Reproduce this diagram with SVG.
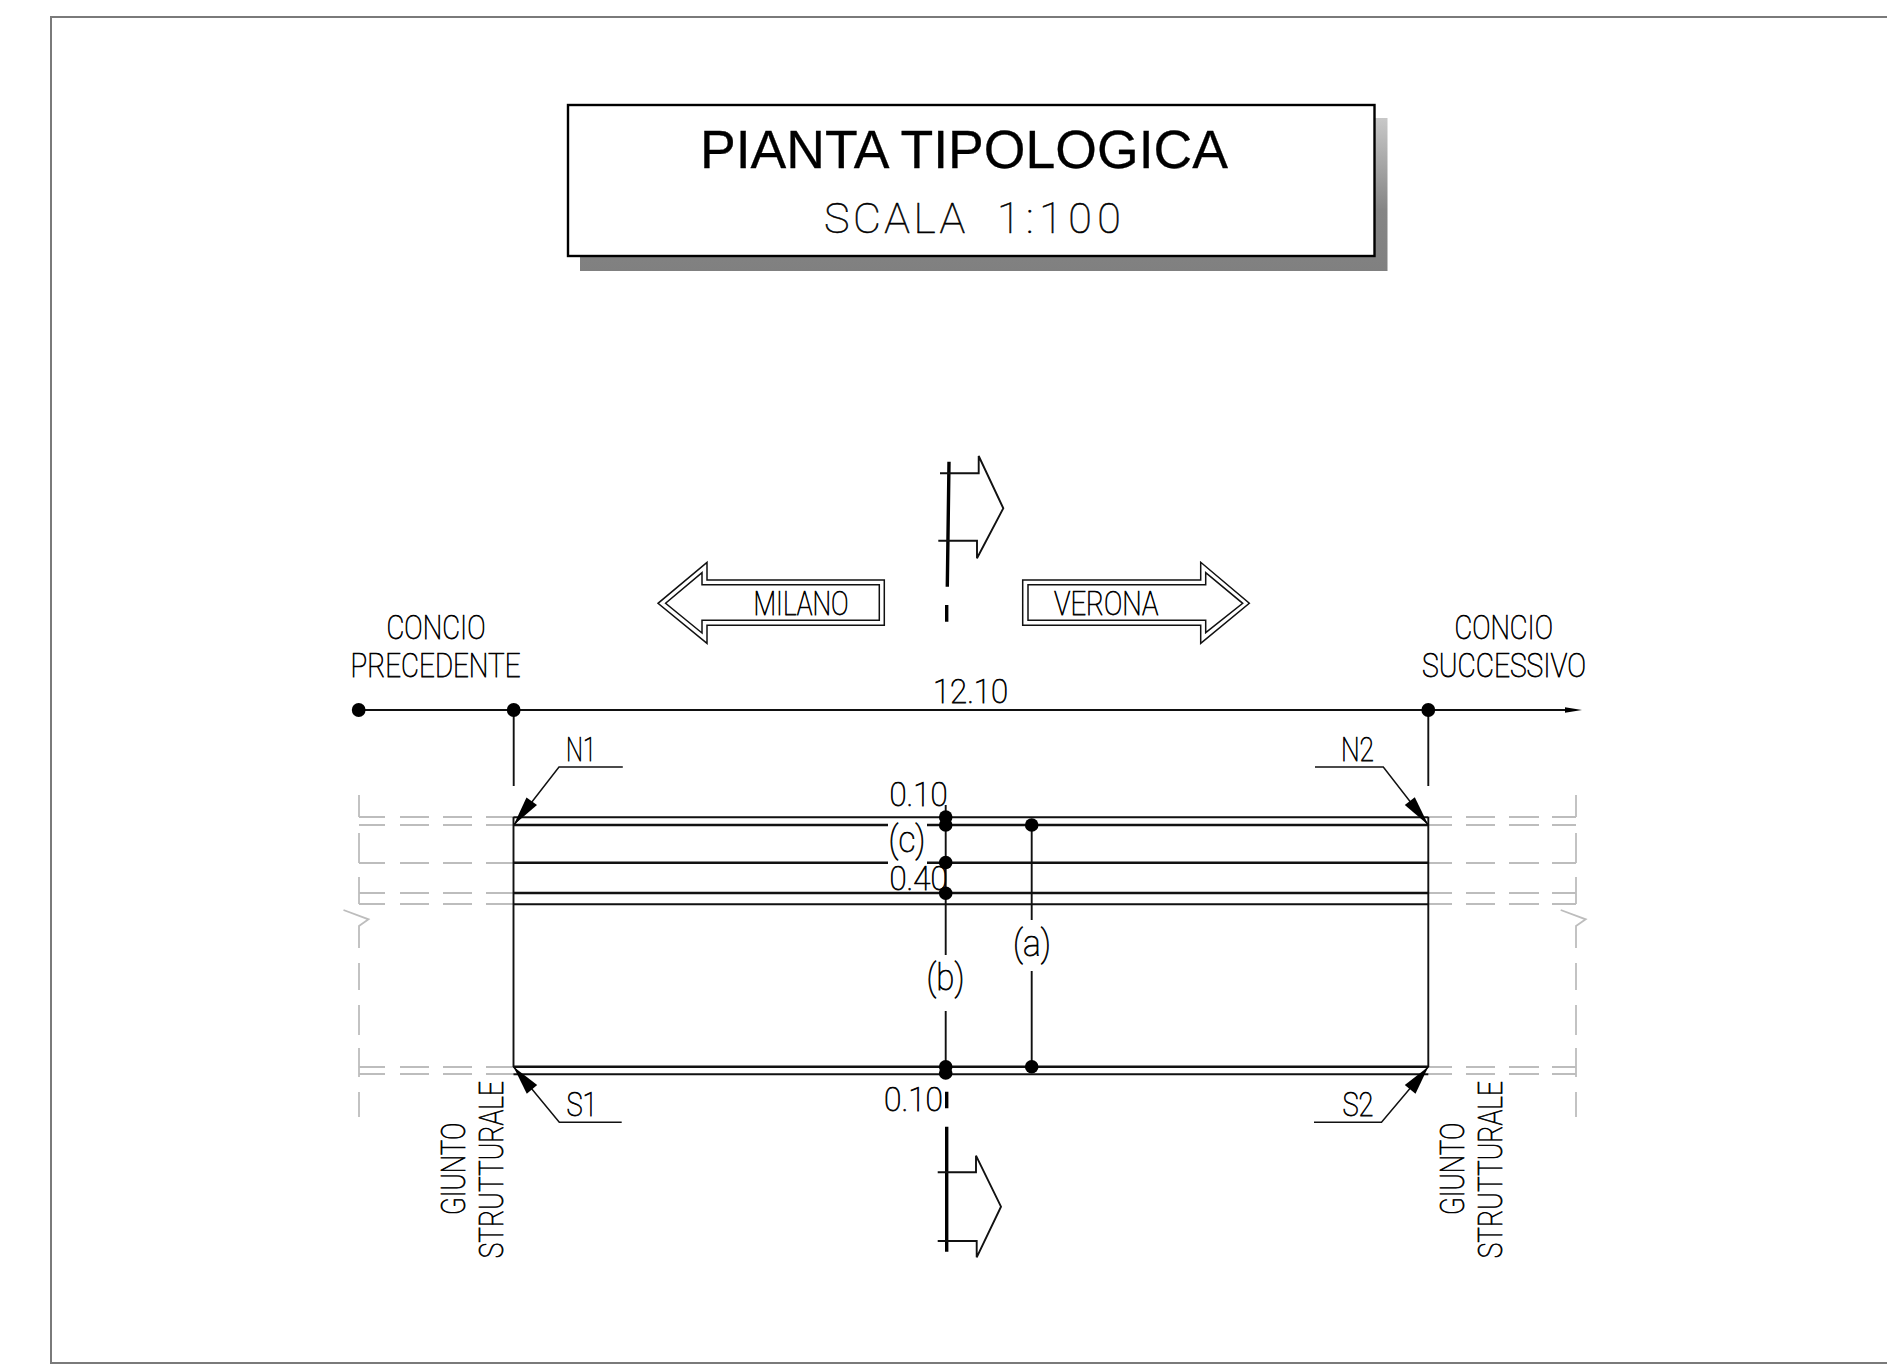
<svg xmlns="http://www.w3.org/2000/svg" width="1887" height="1367" viewBox="0 0 1887 1367">
<style>
.l{fill:none;stroke:#111;stroke-width:1.9}
.n{fill:none;stroke:#111;stroke-width:1.5}
.m{fill:none;stroke:#111;stroke-width:2.6}
.h{fill:none;stroke:#000;stroke-width:3.4}
.g{fill:none;stroke:#bdbdbd;stroke-width:1.8}
.f{fill:none;stroke:#7a7a7a;stroke-width:2}
.d{fill:#000}
.t{font-family:"Roboto","Liberation Sans",sans-serif;font-weight:100;font-size:33px;fill:#000;stroke:#000;stroke-width:.75}
.p{font-size:37px}
.s{font-size:43px;stroke-width:.55}
.b{font-family:"Liberation Sans",sans-serif;font-size:53px;fill:#000;stroke:#000;stroke-width:.3}
</style>
<defs>
<linearGradient id="sh" x1="0" y1="0" x2="0" y2="1"><stop offset="0" stop-color="#c8c8c8"/><stop offset="0.6" stop-color="#858585"/><stop offset="1" stop-color="#808080"/></linearGradient>
</defs>
<rect width="1887" height="1367" fill="#fff"/>
<path class="f" d="M1887 17H51V1363H1887"/>
<g id="title">
<path fill="url(#sh)" d="M580 118H1387.5V271H580Z"/>
<rect x="568" y="105" width="806.5" height="151" fill="#fff" stroke="#000" stroke-width="2.4"/>
<text class="b" x="700" y="168" textLength="528" lengthAdjust="spacingAndGlyphs">PIANTA TIPOLOGICA</text>
<text class="t s" y="233"><tspan x="824" letter-spacing="3.5">SCALA </tspan><tspan x="997" letter-spacing="5.5">1:100</tspan></text>
</g>
<g id="grey-extensions">
<path class="g" d="M359 795V817M359 833V863M359 877V904M343.5 910L368.5 919.3L359 926V948M359 963V990M359 1005V1035M359 1048V1077M359 1092V1117"/>
<path class="g" d="M1576 795V817M1576 833V863M1576 877V904M1560.7 910L1585.7 919.3L1576 926V948M1576 963V990M1576 1005V1035M1576 1048V1077M1576 1092V1117"/>
<path class="g" d="M359 817H385M400 817H429M443 817H472M486 817H514M359 825H385M400 825H429M443 825H472M486 825H514M359 863H385M400 863H429M443 863H472M486 863H514M359 893H385M400 893H429M443 893H472M486 893H514M359 904H385M400 904H429M443 904H472M486 904H514M359 1067H385M400 1067H429M443 1067H472M486 1067H514M359 1074H385M400 1074H429M443 1074H472M486 1074H514"/>
<path class="g" d="M1428 817H1452M1466 817H1495M1509 817H1539M1552 817H1576M1428 825H1452M1466 825H1495M1509 825H1539M1552 825H1576M1428 863H1452M1466 863H1495M1509 863H1539M1552 863H1576M1428 893H1452M1466 893H1495M1509 893H1539M1552 893H1576M1428 904H1452M1466 904H1495M1509 904H1539M1552 904H1576M1428 1067H1452M1466 1067H1495M1509 1067H1539M1552 1067H1576M1428 1074H1452M1466 1074H1495M1509 1074H1539M1552 1074H1576"/>
</g>
<g id="plan">
<path class="l" d="M513.5 817V1067M1428.3 817V1067"/>
<path class="l" d="M513.5 817.3H1428.3M513.5 904.3H1428.3M513.5 1074.3H1428.3"/>
<path class="m" d="M513.5 825H888M927 825H1428.3M513.5 862.7H888M927 862.7H1428.3M513.5 893H1428.3M513.5 1066.7H1428.3"/>
</g>
<g id="dimensions">
<path class="l" d="M359 710H1570M513.7 710V786M1428.3 710V786"/>
<path class="d" d="M1565 707.3L1582 710L1565 712.7Z"/>
<path class="l" d="M945.7 805V955M945.7 1011V1073M1031.7 825V920M1031.7 971V1066.7"/>
<g class="d">
<circle cx="358.7" cy="710" r="6.9"/><circle cx="513.7" cy="710" r="6.9"/><circle cx="1428.3" cy="710" r="6.9"/>
<circle cx="945.7" cy="817" r="6.8"/><circle cx="945.7" cy="825" r="6.8"/><circle cx="945.7" cy="862.5" r="6.8"/><circle cx="945.7" cy="893.3" r="6.8"/>
<circle cx="1031.7" cy="825" r="6.8"/><circle cx="945.7" cy="1066.7" r="6.8"/><circle cx="945.7" cy="1073" r="6.8"/><circle cx="1031.7" cy="1066.7" r="6.8"/>
</g>
</g>
<g id="leaders">
<path class="n" d="M622.8 767H559L514 825"/><path class="d" d="M513.7 825L526.5 797.5L537 805Z"/>
<path class="n" d="M1315 767H1383.3L1428.3 825"/><path class="d" d="M1428.3 825L1414.8 797.2L1404.8 805Z"/>
<path class="n" d="M621.7 1122.3H559.3L513.5 1066.7"/><path class="d" d="M513.5 1066.7L537.2 1085L526.8 1093.8Z"/>
<path class="n" d="M1314 1122.3H1381.5L1428.3 1066.7"/><path class="d" d="M1428.3 1066.7L1415.5 1093.8L1404.8 1085Z"/>
</g>
<g id="section-top">
<path class="h" d="M949 461.7L947.3 586.7M946.7 605V621.7"/>
<path class="l" d="M940 473.3H978.7V456L1003.3 508.3L977 558.3V540.7H938.3"/>
</g>
<g id="section-bottom">
<path class="h" d="M946.7 1091.7V1108.3M946.7 1126.7V1251.7"/>
<path class="l" d="M937.7 1172.3H976V1155.7L1001 1206.7L976.7 1257.3V1241H937.7"/>
</g>
<g id="arrow-milano">
<path class="n" d="M884.3 580H707V562.3L658 603.3L707 643.3V625.3H884.3Z"/>
<path class="n" d="M879.3 584.7H702V572.7L665.6 603.3L702 633V620.3H879.3Z"/>
<text class="t" x="753.5" y="614.5" textLength="95" lengthAdjust="spacingAndGlyphs">MILANO</text>
</g>
<g id="arrow-verona">
<path class="n" d="M1022.7 580H1200.7V562.3L1249.3 603.3L1200.7 643.3V625.3H1022.7Z"/>
<path class="n" d="M1028 584.7H1205.7V572.7L1242.7 603.3L1205.7 632.7V620.3H1028Z"/>
<text class="t" x="1054" y="615" textLength="104.3" lengthAdjust="spacingAndGlyphs">VERONA</text>
</g>
<g id="labels">
<text class="t" x="386.5" y="639" textLength="99" lengthAdjust="spacingAndGlyphs">CONCIO</text>
<text class="t" x="350.5" y="676.7" textLength="170" lengthAdjust="spacingAndGlyphs">PRECEDENTE</text>
<text class="t" x="1454.5" y="639" textLength="98.5" lengthAdjust="spacingAndGlyphs">CONCIO</text>
<text class="t" x="1422" y="676.7" textLength="164" lengthAdjust="spacingAndGlyphs">SUCCESSIVO</text>
<text class="t" x="933" y="703" textLength="75" lengthAdjust="spacingAndGlyphs">12.10</text>
<text class="t" x="566" y="760.7" textLength="30" lengthAdjust="spacingAndGlyphs">N1</text>
<text class="t" x="1341" y="760.7" textLength="33" lengthAdjust="spacingAndGlyphs">N2</text>
<text class="t" x="889.5" y="806" textLength="58" lengthAdjust="spacingAndGlyphs">0.10</text>
<text class="t p" x="888.5" y="852" textLength="37" lengthAdjust="spacingAndGlyphs">(c)</text>
<text class="t" x="889.5" y="890" textLength="58" lengthAdjust="spacingAndGlyphs">0.40</text>
<text class="t p" x="1013" y="956" textLength="38" lengthAdjust="spacingAndGlyphs">(a)</text>
<text class="t p" x="926.5" y="990" textLength="38" lengthAdjust="spacingAndGlyphs">(b)</text>
<text class="t" x="884" y="1111" textLength="59" lengthAdjust="spacingAndGlyphs">0.10</text>
<text class="t" x="566.5" y="1115.7" textLength="31" lengthAdjust="spacingAndGlyphs">S1</text>
<text class="t" x="1342.5" y="1115.7" textLength="31" lengthAdjust="spacingAndGlyphs">S2</text>
<text class="t" transform="translate(465 1215) rotate(-90)" textLength="92.3" lengthAdjust="spacingAndGlyphs">GIUNTO</text>
<text class="t" transform="translate(503.3 1258.3) rotate(-90)" textLength="177.3" lengthAdjust="spacingAndGlyphs">STRUTTURALE</text>
<text class="t" transform="translate(1463.5 1215) rotate(-90)" textLength="92.3" lengthAdjust="spacingAndGlyphs">GIUNTO</text>
<text class="t" transform="translate(1501.5 1258.3) rotate(-90)" textLength="177.3" lengthAdjust="spacingAndGlyphs">STRUTTURALE</text>
</g>
</svg>
